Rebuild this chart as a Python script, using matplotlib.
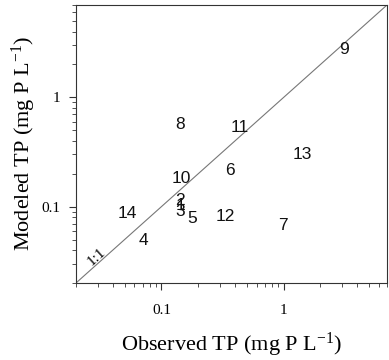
import matplotlib
matplotlib.use("Agg")
import matplotlib.pyplot as plt
import numpy as np

plt.rcParams["mathtext.fontset"] = "custom"
plt.rcParams["mathtext.rm"] = "Liberation Serif"
plt.rcParams["mathtext.it"] = "Liberation Serif:italic"
plt.rcParams["mathtext.bf"] = "Liberation Serif:bold"

labels = ["1", "2", "3", "4", "5", "6", "7", "8", "9", "10", "11", "12", "13", "14"]
observed = [0.143, 0.143, 0.143, 0.071, 0.18, 0.36, 0.98, 0.143, 3.14, 0.145, 0.44, 0.33, 1.42, 0.053]
modeled = [0.102, 0.113, 0.090, 0.049, 0.078, 0.214, 0.067, 0.56, 2.74, 0.182, 0.53, 0.082, 0.298, 0.087]
lim = [0.02, 7]
xticks = [0.1, 1]
xticklabels = ["0.1", "1"]
yticks = [0.1, 1]
yticklabels = ["0.1", "1"]

fig = plt.figure(figsize=(3.89, 3.6), dpi=100)
ax = fig.add_axes([76/389, 1-283/360, 311/389, 278/360])
ax.set_xscale("log")
ax.set_yscale("log")
ax.set_xlim(lim)
ax.set_ylim(lim)
ax.plot(lim, lim, color="#777777", lw=0.8)

for l, x, y in zip(labels, observed, modeled):
    ax.text(x, y, l, ha="center", va="center", fontsize=12.5, family="Liberation Sans", color="#111111")

ax.text(0.0295, 0.0345, "1:1", rotation=42, ha="center", va="center", fontsize=11, family="Liberation Serif")

ax.set_xticks(xticks)
ax.set_xticklabels(xticklabels)
ax.set_yticks(yticks)
ax.set_yticklabels(yticklabels)
ax.tick_params(which="major", length=5, direction="out", labelsize=11, color="#333333")
ax.tick_params(axis="x", which="major", pad=10)
ax.tick_params(axis="y", which="major", pad=6)
ax.tick_params(which="minor", length=3, direction="out", color="#333333")
for lab in ax.get_xticklabels() + ax.get_yticklabels():
    lab.set_family("Liberation Serif")
for s in ax.spines.values():
    s.set_color("#333333")
    s.set_linewidth(0.8)

ax.set_xlabel(r"Observed TP (mg P L$^{\mathregular{-1}}$)", family="Liberation Serif", fontsize=16, labelpad=10)
ax.set_ylabel(r"Modeled TP (mg P L$^{\mathregular{-1}}$)", family="Liberation Serif", fontsize=16, labelpad=3)

fig.savefig("out.png", dpi=100)
